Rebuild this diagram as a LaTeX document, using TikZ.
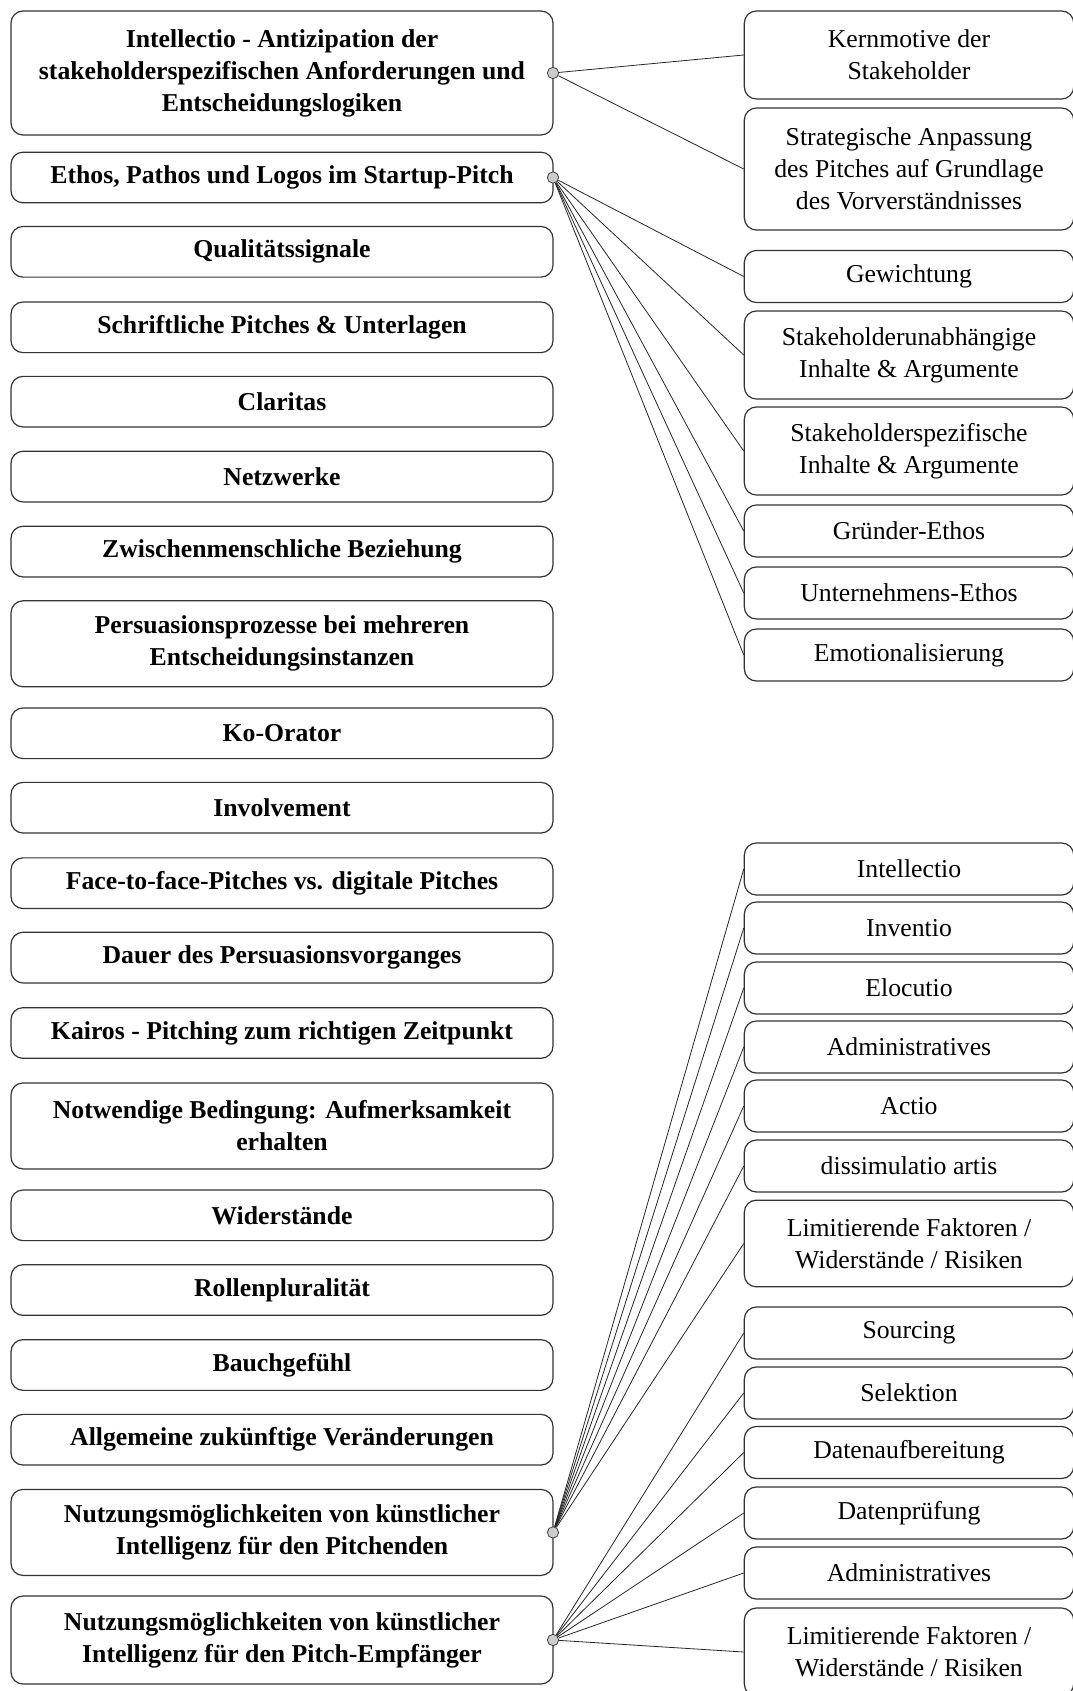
\documentclass[tikz,border=0pt]{standalone}
\usepackage{fontspec}
\setmainfont{Liberation Serif}
\usepackage{tikz}

\tikzset{
  lbox/.style={draw=black!80, line width=0.9pt, rounded corners=9pt, minimum width=406.5pt, minimum height=38pt, inner sep=0pt, align=center, font=\fontsize{19.3}{24}\selectfont\bfseries},
  rbox/.style={draw=black!80, line width=0.9pt, rounded corners=9pt, minimum width=247pt, minimum height=39pt, inner sep=0pt, align=center, font=\fontsize{19.3}{24}\selectfont},
  knob/.style={circle, draw=black!75, fill=black!20, line width=0.6pt, minimum size=8.5pt, inner sep=0pt},
  link/.style={line width=0.6pt, black!85}
}

\begin{document}
\begin{tikzpicture}[x=0.75pt,y=0.75pt,yscale=-1,xscale=1]
\useasboundingbox (0,0) rectangle (1073,1691);

% Left column
\node[lbox, minimum height=93pt] (intel) at (282,73) {Intellectio - Antizipation der\\stakeholderspezifischen Anforderungen und\\Entscheidungslogiken};
\node[lbox] (ethos) at (282,177.5) {Ethos, Pathos und Logos im Startup-Pitch};
\node[lbox] (quali) at (282,251.8) {Qualitätssignale};
\node[lbox] (schrift) at (282,327.3) {Schriftliche Pitches \& Unterlagen};
\node[lbox] (clar) at (282,401.7) {Claritas};
\node[lbox] (netz) at (282,476.6) {Netzwerke};
\node[lbox] (zwisch) at (282,551.6) {Zwischenmenschliche Beziehung};
\node[lbox, minimum height=64.5pt] (persu) at (282,643.8) {Persuasionsprozesse bei mehreren\\Entscheidungsinstanzen};
\node[lbox] (koor) at (282,733.3) {Ko-Orator};
\node[lbox] (invol) at (282,807.7) {Involvement};
\node[lbox] (face) at (282,883.2) {Face-to-face-Pitches vs. digitale Pitches};
\node[lbox] (dauer) at (282,957.6) {Dauer des Persuasionsvorganges};
\node[lbox] (kairos) at (282,1033) {Kairos - Pitching zum richtigen Zeitpunkt};
\node[lbox, minimum height=64.5pt] (aufm) at (282,1125.9) {Notwendige Bedingung: Aufmerksamkeit\\erhalten};
\node[lbox] (wider) at (282,1215.3) {Widerstände};
\node[lbox] (rollen) at (282,1290) {Rollenpluralität};
\node[lbox] (bauch) at (282,1365) {Bauchgefühl};
\node[lbox] (allg) at (282,1439.7) {Allgemeine zukünftige Veränderungen};
\node[lbox, minimum height=64.5pt] (kipitch) at (282,1532.4) {Nutzungsmöglichkeiten von künstlicher\\Intelligenz für den Pitchenden};
\node[lbox, minimum height=66pt] (kiempf) at (282,1640) {Nutzungsmöglichkeiten von künstlicher\\Intelligenz für den Pitch-Empfänger};

% Right column, upper group
\node[rbox, minimum height=66pt] (kern) at (909,55) {Kernmotive der\\Stakeholder};
\node[rbox, minimum height=91.5pt] (anpass) at (909,169) {Strategische Anpassung\\des Pitches auf Grundlage\\des Vorverständnisses};
\node[rbox] (gewicht) at (909,276.5) {Gewichtung};
\node[rbox, minimum height=66pt] (unabh) at (909,355) {Stakeholderunabhängige\\Inhalte \& Argumente};
\node[rbox, minimum height=66pt] (spez) at (909,451) {Stakeholderspezifische\\Inhalte \& Argumente};
\node[rbox] (gruender) at (909,531) {Gründer-Ethos};
\node[rbox] (untern) at (909,593) {Unternehmens-Ethos};
\node[rbox] (emo) at (909,655) {Emotionalisierung};

% Right column, lower group
\node[rbox] (pintel) at (909,869) {Intellectio};
\node[rbox] (pinv) at (909,928) {Inventio};
\node[rbox] (peloc) at (909,988) {Elocutio};
\node[rbox] (padmin) at (909,1047) {Administratives};
\node[rbox] (pactio) at (909,1106) {Actio};
\node[rbox] (pdiss) at (909,1166) {dissimulatio artis};
\node[rbox, minimum height=65pt] (plimit) at (909,1243.5) {Limitierende Faktoren /\\Widerstände / Risiken};
\node[rbox] (esourc) at (909,1333) {Sourcing};
\node[rbox] (eselek) at (909,1393) {Selektion};
\node[rbox] (eaufb) at (909,1452.5) {Datenaufbereitung};
\node[rbox] (epruef) at (909,1513) {Datenprüfung};
\node[rbox] (eadmin) at (909,1573) {Administratives};
\node[rbox, minimum height=66pt] (elimit) at (909,1652) {Limitierende Faktoren /\\Widerstände / Risiken};

% Knobs
\node[knob] (k1) at (553,73) {};
\node[knob] (k2) at (553,177.5) {};
\node[knob] (k3) at (553,1532.4) {};
\node[knob] (k4) at (553,1640) {};

% Links
\foreach \t in {kern,anpass} \draw[link] (k1) -- (\t.west);
\foreach \t in {gewicht,unabh,spez,gruender,untern,emo} \draw[link] (k2) -- (\t.west);
\foreach \t in {pintel,pinv,peloc,padmin,pactio,pdiss,plimit} \draw[link] (k3) -- (\t.west);
\foreach \t in {esourc,eselek,eaufb,epruef,eadmin,elimit} \draw[link] (k4) -- (\t.west);

\end{tikzpicture}
\end{document}
